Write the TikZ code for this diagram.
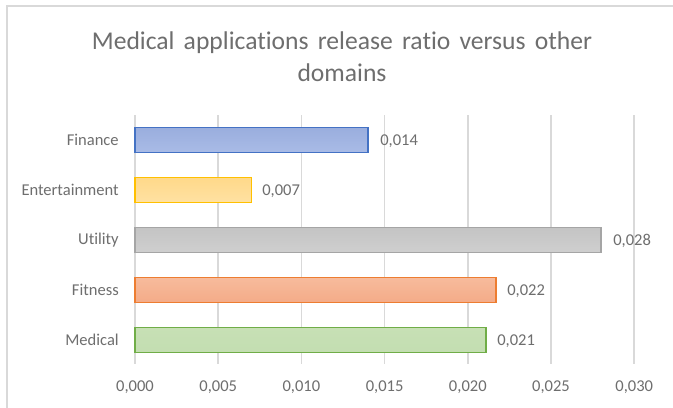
\documentclass[tikz,border=0pt]{standalone}
\usepackage{fontspec}
\setmainfont{Carlito}[Ligatures={NoCommon}]
\newcommand\charttitlefont{\fontsize{19.2}{22}\selectfont\spaceskip 0.36em plus 0.1em\relax}
\definecolor{gridc}{HTML}{D9D9D9}
\definecolor{txtc}{HTML}{6E6E6E}
\definecolor{blueE}{HTML}{4472C4}
\definecolor{blueT}{HTML}{9AAEDE}
\definecolor{blueB}{HTML}{A9BBE6}
\definecolor{goldE}{HTML}{FFC000}
\definecolor{goldT}{HTML}{FFD98A}
\definecolor{goldB}{HTML}{FFE1A3}
\definecolor{grayE}{HTML}{A5A5A5}
\definecolor{grayT}{HTML}{C4C4C4}
\definecolor{grayB}{HTML}{CFCFCF}
\definecolor{orgE}{HTML}{ED7D31}
\definecolor{orgT}{HTML}{F7BB9C}
\definecolor{orgB}{HTML}{F4AB88}
\definecolor{grnE}{HTML}{70AD47}
\definecolor{grnT}{HTML}{C7E0B5}
\definecolor{grnB}{HTML}{C3DEB1}
\tikzset{
  ticklbl/.style={font=\fontsize{12.4}{14}\selectfont, text=txtc, inner sep=0pt},
  catlbl/.style={font=\fontsize{12.4}{14}\selectfont, text=txtc, inner sep=0pt, anchor=east},
  vallbl/.style={font=\fontsize{12.4}{14}\selectfont, text=txtc, inner sep=0pt, anchor=west},
  titlelbl/.style={font=\charttitlefont, text=txtc, inner sep=0pt},
  gridline/.style={draw=gridc, line width=1.1pt},
  bar/.style={line width=1.4pt}
}
\begin{document}
\begin{tikzpicture}[x=0.75pt,y=-0.75pt]
\useasboundingbox (0,0) rectangle (673,407);
\fill[white] (0,0) rectangle (673,407);
% chart frame
\draw[gridc, line width=1.5pt] (6.5,420) -- (6.5,5.5) -- (690,5.5);
% title
\node[titlelbl] (t1) at (342,43) {Medical applications release ratio versus other};
\node[titlelbl] (t2) at (342,73) {domains};
% vertical gridlines and tick labels
\foreach \k/\lab in {0/{0,000},1/{0,005},2/{0,010},3/{0,015},4/{0,020},5/{0,025},6/{0,030}}{
  \draw[gridline] (135+83.2*\k,115) -- (135+83.2*\k,364);
  \node[ticklbl] (tick\k) at (135+83.2*\k,387) {\lab};
}
% bars: value, centre y, edge, top and bottom colour, category, name
\foreach \v/\y/\e/\ct/\cb/\lab/\nm in {
  0.014/140/blueE/blueT/blueB/Finance/fin,
  0.007/190/goldE/goldT/goldB/Entertainment/ent,
  0.028/240/grayE/grayT/grayB/Utility/uti,
  0.0217/290/orgE/orgT/orgB/Fitness/fit,
  0.0211/340/grnE/grnT/grnB/Medical/med}{
  \pgfmathsetmacro{\xe}{135+\v/0.005*83.2}
  \shade[top color=\ct, bottom color=\cb] (135,\y-12.5) rectangle (\xe,\y+12.5);
  \draw[bar, \e] (135,\y-12.5) rectangle (\xe,\y+12.5);
  \node[catlbl] (c\nm) at (119,\y) {\lab};
}
% data labels
\node[vallbl] (vfin) at (380,141) {0,014};
\node[vallbl] (vent) at (262,191) {0,007};
\node[vallbl] (vuti) at (613,241) {0,028};
\node[vallbl] (vfit) at (507,291) {0,022};
\node[vallbl] (vmed) at (497,341) {0,021};
\end{tikzpicture}
\end{document}
